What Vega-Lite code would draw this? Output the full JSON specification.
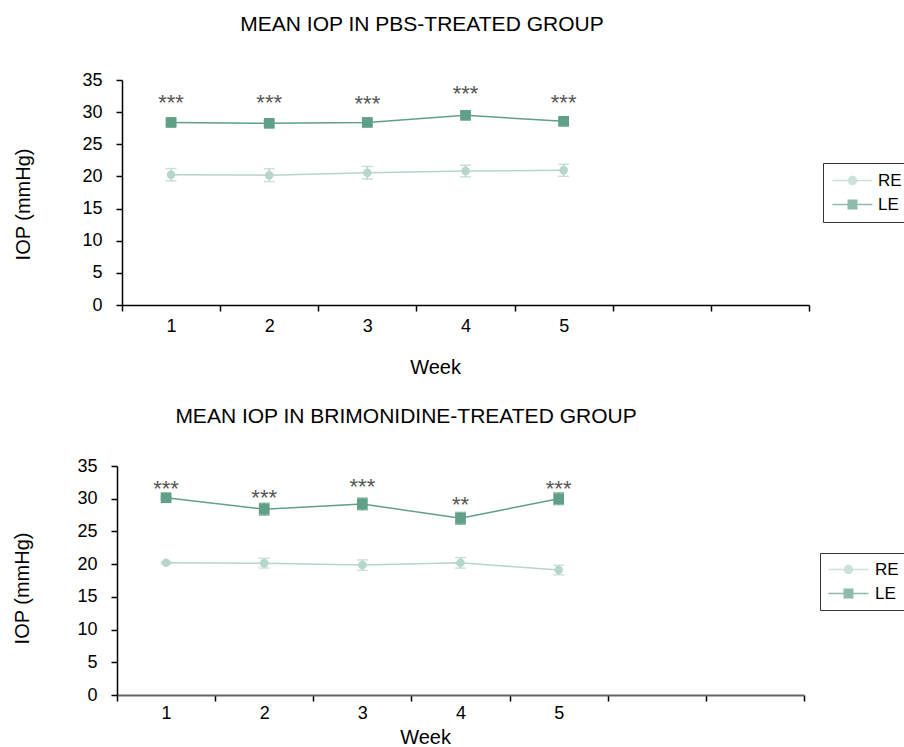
{
  "$schema": "https://vega.github.io/schema/vega-lite/v6.json",
  "background": "white",
  "padding": {"left": 12, "top": 14, "right": 0, "bottom": 0},
  "columns": 1,
  "align": "none",
  "bounds": "full",
  "spacing": 29,
  "resolve": {"scale": {"color": "independent", "shape": "independent"}, "legend": {"color": "independent", "shape": "independent"}},
  "datasets": {
    "pbs": [
      {"week": 1, "eye": "RE", "mean": 20.26, "sd": 0.95},
      {"week": 2, "eye": "RE", "mean": 20.2, "sd": 1.0},
      {"week": 3, "eye": "RE", "mean": 20.58, "sd": 0.98},
      {"week": 4, "eye": "RE", "mean": 20.84, "sd": 0.9},
      {"week": 5, "eye": "RE", "mean": 20.95, "sd": 0.93},
      {"week": 1, "eye": "LE", "mean": 28.4, "sd": 0.4},
      {"week": 2, "eye": "LE", "mean": 28.26, "sd": 0.4},
      {"week": 3, "eye": "LE", "mean": 28.4, "sd": 0.4},
      {"week": 4, "eye": "LE", "mean": 29.5, "sd": 0.4},
      {"week": 5, "eye": "LE", "mean": 28.57, "sd": 0.4}
    ],
    "pbs_sig": [
      {"week": 1, "y": 32.4, "label": "***"},
      {"week": 2, "y": 32.4, "label": "***"},
      {"week": 3, "y": 32.24, "label": "***"},
      {"week": 4, "y": 33.7, "label": "***"},
      {"week": 5, "y": 32.4, "label": "***"}
    ],
    "brim": [
      {"week": 1, "eye": "RE", "mean": 20.2, "sd": 0.15},
      {"week": 2, "eye": "RE", "mean": 20.15, "sd": 0.74},
      {"week": 3, "eye": "RE", "mean": 19.85, "sd": 0.8},
      {"week": 4, "eye": "RE", "mean": 20.2, "sd": 0.8},
      {"week": 5, "eye": "RE", "mean": 19.1, "sd": 0.72},
      {"week": 1, "eye": "LE", "mean": 30.15, "sd": 0.2},
      {"week": 2, "eye": "LE", "mean": 28.4, "sd": 0.9},
      {"week": 3, "eye": "LE", "mean": 29.2, "sd": 0.9},
      {"week": 4, "eye": "LE", "mean": 27.0, "sd": 0.9},
      {"week": 5, "eye": "LE", "mean": 30.0, "sd": 0.9}
    ],
    "brim_sig": [
      {"week": 1, "y": 32.45, "label": "***"},
      {"week": 2, "y": 30.97, "label": "***"},
      {"week": 3, "y": 32.7, "label": "***"},
      {"week": 4, "y": 29.95, "label": "**"},
      {"week": 5, "y": 32.35, "label": "***"}
    ]
  },
  "config": {
    "view": {"stroke": null},
    "font": "Liberation Sans",
    "axis": {
      "domainColor": "#000", "tickColor": "#000", "labelColor": "#000", "titleColor": "#000",
      "grid": false, "labelFont": "Liberation Sans", "titleFont": "Liberation Sans",
      "titleFontWeight": "normal", "labelFontSize": 18, "titleFontSize": 20,
      "tickSize": 6, "domainWidth": 1.5, "tickWidth": 1.5
    }
  },
  "concat": [
    {
      "title": {"text": "MEAN IOP IN PBS-TREATED GROUP", "font": "Liberation Sans", "fontSize": 21, "fontWeight": "normal", "color": "#000", "frame": "group", "dx": -41, "offset": 36},
      "width": 692,
      "height": 225,
      "data": {"name": "pbs"},
      "layer": [
        {
          "mark": {"type": "errorbar", "ticks": {"size": 11, "thickness": 1.5}, "thickness": 1.5},
          "encoding": {
            "x": {"field": "week", "type": "ordinal", "scale": {"domain": [1, 2, 3, 4, 5, 6, 7], "paddingInner": 0, "paddingOuter": 0, "range": [5, 692]},
                  "axis": {"title": "Week", "labelAngle": 0, "tickBand": "extent", "labelExpr": "datum.value <= 5 ? datum.label : ''", "labelPadding": 6, "titlePadding": 22, "titleX": 318}},
            "y": {"field": "mean", "type": "quantitative", "scale": {"domain": [0, 35]},
                  "axis": {"title": "IOP (mmHg)", "values": [0, 5, 10, 15, 20, 25, 30, 35], "labelPadding": 14, "titlePadding": 48, "titleY": 124, "offset": -5}},
            "yError": {"field": "sd"},
            "color": {"field": "eye", "type": "nominal", "scale": {"domain": ["RE", "LE"], "range": ["#b5d6c8", "#60a086"]}}
          }
        },
        {
          "mark": {"type": "line", "strokeWidth": 1.5},
          "encoding": {
            "x": {"field": "week", "type": "ordinal"},
            "y": {"field": "mean", "type": "quantitative",
                  "axis": {"title": "IOP (mmHg)", "values": [0, 5, 10, 15, 20, 25, 30, 35], "labelPadding": 14, "titlePadding": 48, "titleY": 124, "offset": -5}},
            "color": {"field": "eye", "type": "nominal"}
          }
        },
        {
          "transform": [{"filter": "datum.eye === 'RE'"}],
          "mark": {"type": "point", "shape": "circle", "filled": true, "opacity": 1, "size": 72},
          "encoding": {
            "x": {"field": "week", "type": "ordinal"},
            "y": {"field": "mean", "type": "quantitative",
                  "axis": {"title": "IOP (mmHg)", "values": [0, 5, 10, 15, 20, 25, 30, 35], "labelPadding": 14, "titlePadding": 48, "titleY": 124, "offset": -5}},
            "color": {"field": "eye", "type": "nominal"}
          }
        },
        {
          "transform": [{"filter": "datum.eye === 'LE'"}],
          "mark": {"type": "point", "shape": "square", "filled": true, "opacity": 1, "size": 115},
          "encoding": {
            "x": {"field": "week", "type": "ordinal"},
            "y": {"field": "mean", "type": "quantitative",
                  "axis": {"title": "IOP (mmHg)", "values": [0, 5, 10, 15, 20, 25, 30, 35], "labelPadding": 14, "titlePadding": 48, "titleY": 124, "offset": -5}},
            "color": {"field": "eye", "type": "nominal"}
          }
        },
        {
          "transform": [{"filter": "false"}],
          "mark": {"type": "point", "filled": true, "opacity": 1},
          "encoding": {
            "x": {"field": "week", "type": "ordinal"},
            "y": {"field": "mean", "type": "quantitative",
                  "axis": {"title": "IOP (mmHg)", "values": [0, 5, 10, 15, 20, 25, 30, 35], "labelPadding": 14, "titlePadding": 48, "titleY": 124, "offset": -5}},
            "color": {"field": "eye", "type": "nominal"},
            "shape": {"field": "eye", "type": "nominal",
              "scale": {"domain": ["RE", "LE"], "range": [
                "M-1,-0.09L4,-0.09L4,0.09L-1,0.09ZM2.09,0C2.09,0.326,1.826,0.59,1.5,0.59C1.174,0.59,0.91,0.326,0.91,0C0.91,-0.326,1.174,-0.59,1.5,-0.59C1.826,-0.59,2.09,-0.326,2.09,0Z",
                "M-1,-0.09L4,-0.09L4,0.09L-1,0.09ZM0.875,-0.625L2.125,-0.625L2.125,0.625L0.875,0.625Z"]},
              "legend": {"orient": "none", "legendX": 706, "legendY": 83, "title": null, "strokeColor": "#333", "padding": 9,
                "symbolSize": 256, "symbolOpacity": 1, "symbolStrokeWidth": 0, "labelFontSize": 17, "labelFont": "Liberation Sans", "labelColor": "#000", "labelOffset": 29, "rowPadding": 6}}
          }
        },
        {
          "data": {"name": "pbs_sig"},
          "mark": {"type": "text", "font": "Liberation Sans", "fontSize": 22, "color": "#555", "baseline": "alphabetic", "dy": 13},
          "encoding": {
            "x": {"field": "week", "type": "ordinal"},
            "y": {"field": "y", "type": "quantitative",
                  "axis": {"title": "IOP (mmHg)", "values": [0, 5, 10, 15, 20, 25, 30, 35], "labelPadding": 14, "titlePadding": 48, "titleY": 124, "offset": -5}},
            "text": {"field": "label"}
          }
        }
      ]
    },
    {
      "title": {"text": "MEAN IOP IN BRIMONIDINE-TREATED GROUP", "font": "Liberation Sans", "fontSize": 21, "fontWeight": "normal", "color": "#000", "frame": "group", "dx": -57, "offset": 30},
      "width": 692,
      "height": 229,
      "data": {"name": "brim"},
      "layer": [
        {
          "mark": {"type": "errorbar", "ticks": {"size": 11, "thickness": 1.5}, "thickness": 1.5},
          "encoding": {
            "x": {"field": "week", "type": "ordinal", "scale": {"domain": [1, 2, 3, 4, 5, 6, 7], "paddingInner": 0, "paddingOuter": 0, "range": [0, 687]},
                  "axis": {"title": "Week", "labelAngle": 0, "tickBand": "extent", "labelExpr": "datum.value <= 5 ? datum.label : ''", "labelPadding": 3, "titlePadding": 5, "titleX": 308, "domainColor": "#666", "domainWidth": 2}},
            "y": {"field": "mean", "type": "quantitative", "scale": {"domain": [0, 35]},
                  "axis": {"title": "IOP (mmHg)", "values": [0, 5, 10, 15, 20, 25, 30, 35], "labelPadding": 14, "titlePadding": 44, "titleY": 122}},
            "yError": {"field": "sd"},
            "color": {"field": "eye", "type": "nominal", "scale": {"domain": ["RE", "LE"], "range": ["#b5d6c8", "#60a086"]}}
          }
        },
        {
          "mark": {"type": "line", "strokeWidth": 1.5},
          "encoding": {
            "x": {"field": "week", "type": "ordinal"},
            "y": {"field": "mean", "type": "quantitative",
                  "axis": {"title": "IOP (mmHg)", "values": [0, 5, 10, 15, 20, 25, 30, 35], "labelPadding": 14, "titlePadding": 44, "titleY": 122}},
            "color": {"field": "eye", "type": "nominal"}
          }
        },
        {
          "transform": [{"filter": "datum.eye === 'RE'"}],
          "mark": {"type": "point", "shape": "circle", "filled": true, "opacity": 1, "size": 72},
          "encoding": {
            "x": {"field": "week", "type": "ordinal"},
            "y": {"field": "mean", "type": "quantitative",
                  "axis": {"title": "IOP (mmHg)", "values": [0, 5, 10, 15, 20, 25, 30, 35], "labelPadding": 14, "titlePadding": 44, "titleY": 122}},
            "color": {"field": "eye", "type": "nominal"}
          }
        },
        {
          "transform": [{"filter": "datum.eye === 'LE'"}],
          "mark": {"type": "point", "shape": "square", "filled": true, "opacity": 1, "size": 115},
          "encoding": {
            "x": {"field": "week", "type": "ordinal"},
            "y": {"field": "mean", "type": "quantitative",
                  "axis": {"title": "IOP (mmHg)", "values": [0, 5, 10, 15, 20, 25, 30, 35], "labelPadding": 14, "titlePadding": 44, "titleY": 122}},
            "color": {"field": "eye", "type": "nominal"}
          }
        },
        {
          "transform": [{"filter": "false"}],
          "mark": {"type": "point", "filled": true, "opacity": 1},
          "encoding": {
            "x": {"field": "week", "type": "ordinal"},
            "y": {"field": "mean", "type": "quantitative",
                  "axis": {"title": "IOP (mmHg)", "values": [0, 5, 10, 15, 20, 25, 30, 35], "labelPadding": 14, "titlePadding": 44, "titleY": 122}},
            "color": {"field": "eye", "type": "nominal"},
            "shape": {"field": "eye", "type": "nominal",
              "scale": {"domain": ["RE", "LE"], "range": [
                "M-1,-0.09L4,-0.09L4,0.09L-1,0.09ZM2.09,0C2.09,0.326,1.826,0.59,1.5,0.59C1.174,0.59,0.91,0.326,0.91,0C0.91,-0.326,1.174,-0.59,1.5,-0.59C1.826,-0.59,2.09,-0.326,2.09,0Z",
                "M-1,-0.09L4,-0.09L4,0.09L-1,0.09ZM0.875,-0.625L2.125,-0.625L2.125,0.625L0.875,0.625Z"]},
              "legend": {"orient": "none", "legendX": 703, "legendY": 87, "title": null, "strokeColor": "#333", "padding": 8,
                "symbolSize": 256, "symbolOpacity": 1, "symbolStrokeWidth": 0, "labelFontSize": 17, "labelFont": "Liberation Sans", "labelColor": "#000", "labelOffset": 30, "rowPadding": 6}}
          }
        },
        {
          "data": {"name": "brim_sig"},
          "mark": {"type": "text", "font": "Liberation Sans", "fontSize": 22, "color": "#555", "baseline": "alphabetic", "dy": 13},
          "encoding": {
            "x": {"field": "week", "type": "ordinal"},
            "y": {"field": "y", "type": "quantitative",
                  "axis": {"title": "IOP (mmHg)", "values": [0, 5, 10, 15, 20, 25, 30, 35], "labelPadding": 14, "titlePadding": 44, "titleY": 122}},
            "text": {"field": "label"}
          }
        }
      ]
    }
  ]
}
